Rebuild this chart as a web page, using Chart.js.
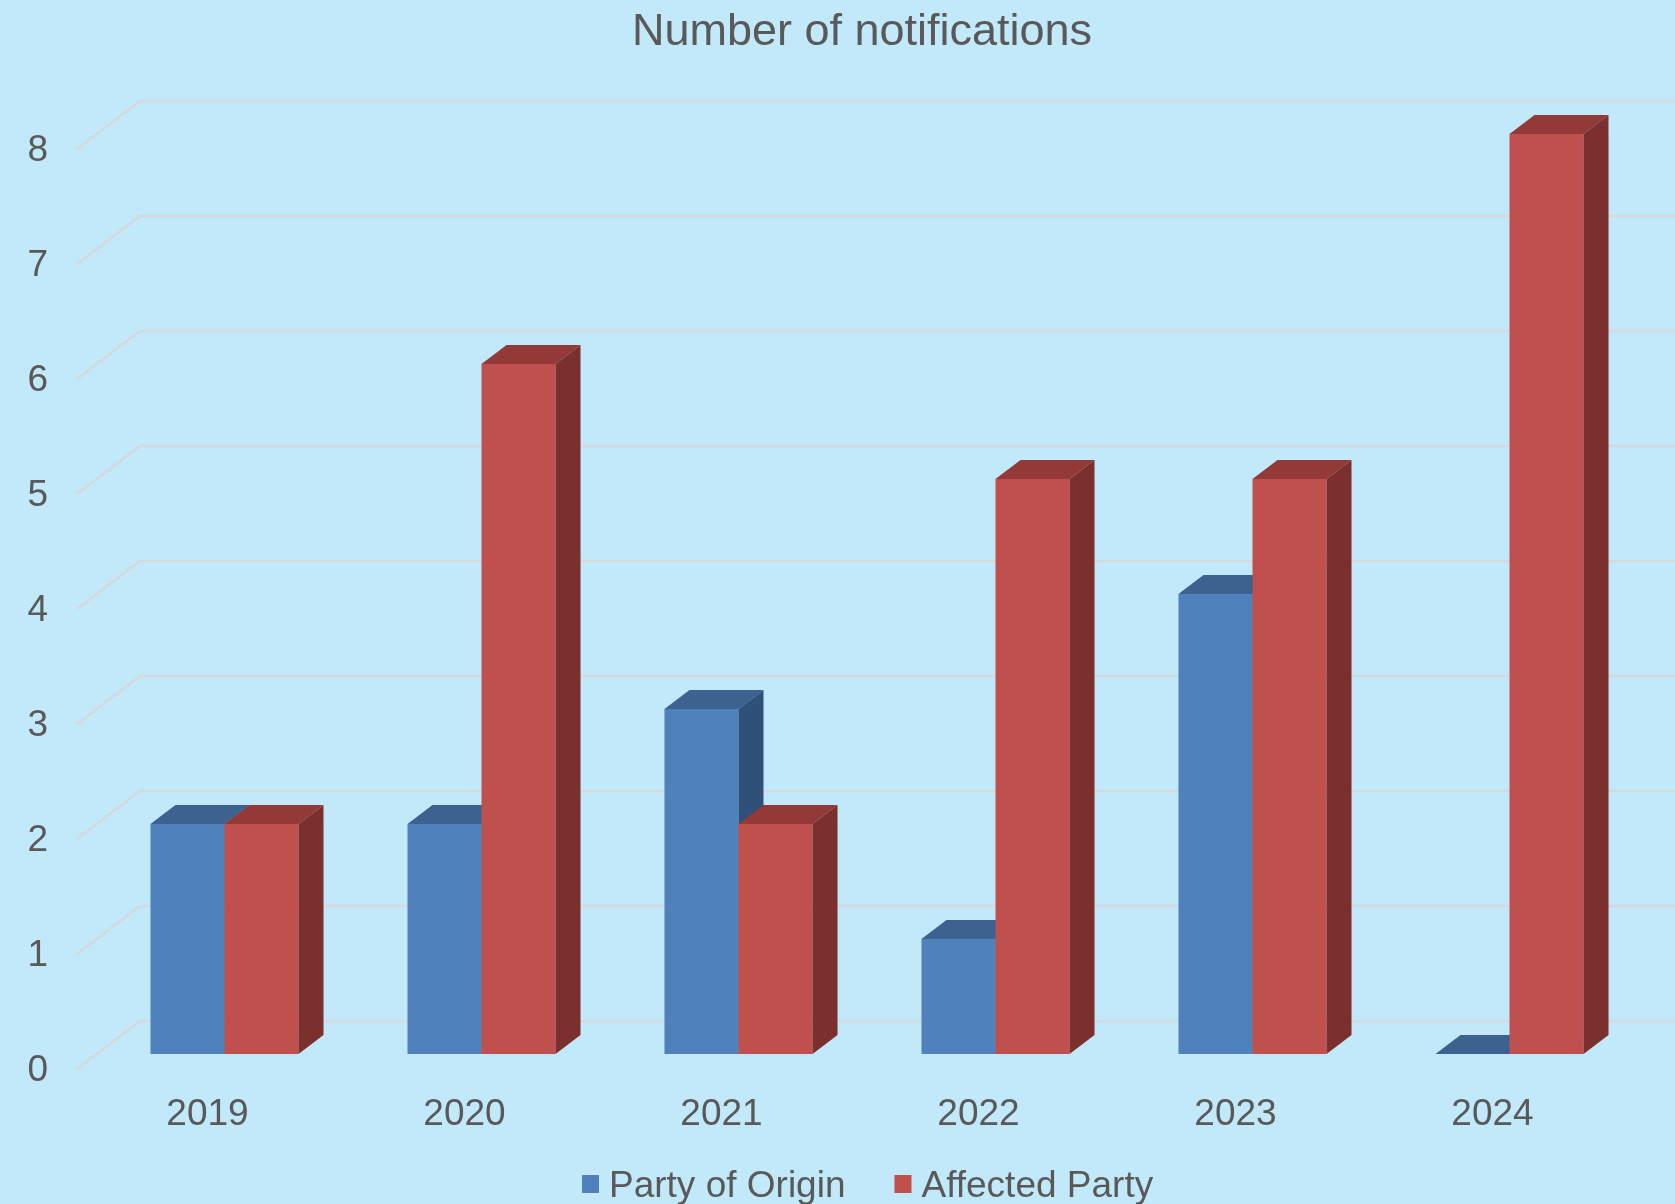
<!DOCTYPE html>
<html lang="en">
<head>
  <meta charset="UTF-8" />
  <title>Number of notifications</title>
  <script src="https://cdn.jsdelivr.net/npm/chart.js"></script>
  <style>
    html, body { margin: 0; padding: 0; background: #c2e9fa; }
    canvas { display: block; }
  </style>
</head>
<body>

<canvas id="chartCanvas" width="1675" height="1204"></canvas>

<script>
  // data
  const years = ['2019', '2020', '2021', '2022', '2023', '2024'];
  const partyOfOrigin = [2, 2, 3, 1, 4, 0];
  const affectedParty = [2, 6, 2, 5, 5, 8];
  const yTicks = [0, 1, 2, 3, 4, 5, 6, 7, 8];
  const chartTitle = 'Number of notifications';

  const BG = '#c2e9fa';
  const TEXT = '#595959';
  const GRID = '#d3d9dc';
  const FONT = '"Liberation Sans", Arial, sans-serif';

  // front / top / side shade per series
  const faces = [
    { front: '#4f81bd', top: '#3c6290', side: '#2f5079' },
    { front: '#c0504d', top: '#933a38', side: '#7b302e' }
  ];
  const DX = 25, DY = 19;

  const ctx = document.getElementById('chartCanvas').getContext('2d');

  const bars3d = {
    id: 'bars3d',
    beforeDraw(chart) {
      const c = chart.ctx;
      c.save();
      c.fillStyle = BG;
      c.fillRect(0, 0, chart.width, chart.height);
      c.restore();
    },
    beforeDatasetsDraw(chart) {
      // back wall + side wall gridlines
      const c = chart.ctx;
      const area = chart.chartArea;
      const y = chart.scales.y;
      c.save();
      c.strokeStyle = GRID;
      c.lineWidth = 2.5;
      yTicks.forEach(v => {
        const py = y.getPixelForValue(v);
        c.beginPath();
        c.moveTo(area.left - 19, py + 15);
        c.lineTo(area.left + 44, py - 33);
        c.lineTo(chart.width, py - 33);
        c.stroke();
      });
      c.restore();
    },
    beforeDatasetDraw() {
      return false; // drawn below as boxes
    },
    afterDatasetsDraw(chart) {
      const c = chart.ctx;
      c.save();
      for (let i = 0; i < chart.data.labels.length; i++) {
        chart.data.datasets.forEach((ds, d) => {
          const bar = chart.getDatasetMeta(d).data[i];
          const { x, y, base, width } = bar.getProps(['x', 'y', 'base', 'width'], true);
          const l = x - width / 2, r = x + width / 2;
          const f = faces[d];

          c.fillStyle = f.front;
          c.fillRect(l, y, width, base - y);

          c.fillStyle = f.top;
          c.beginPath();
          c.moveTo(l, y);
          c.lineTo(l + DX, y - DY);
          c.lineTo(r + DX, y - DY);
          c.lineTo(r, y);
          c.closePath();
          c.fill();

          c.fillStyle = f.side;
          c.beginPath();
          c.moveTo(r, y);
          c.lineTo(r + DX, y - DY);
          c.lineTo(r + DX, base - DY);
          c.lineTo(r, base);
          c.closePath();
          c.fill();
        });
      }
      c.restore();
    },
    afterDraw(chart) {
      const c = chart.ctx;
      c.save();
      // title (sits a little right of centre in the original)
      c.font = '45px ' + FONT;
      c.fillStyle = TEXT;
      c.textAlign = 'center';
      c.textBaseline = 'middle';
      c.fillText(chartTitle, 862, 33);

      // legend
      c.font = '37px ' + FONT;
      c.textAlign = 'left';
      c.textBaseline = 'alphabetic';
      let x = 582;
      chart.data.datasets.forEach((ds, d) => {
        c.fillStyle = faces[d].front;
        c.fillRect(x, 1175, 17, 18);
        x += 27;
        c.fillStyle = TEXT;
        c.fillText(ds.label, x, 1197);
        x += c.measureText(ds.label).width + 49;
      });
      c.restore();
    }
  };

  new Chart(ctx, {
    type: 'bar',
    data: {
      labels: years,
      datasets: [
        { label: 'Party of Origin', data: partyOfOrigin, backgroundColor: faces[0].front },
        { label: 'Affected Party', data: affectedParty, backgroundColor: faces[1].front }
      ]
    },
    options: {
      responsive: false,
      animation: false,
      layout: { padding: { left: 25, right: 37, top: 134, bottom: 68.6 } },
      datasets: {
        bar: { categoryPercentage: 0.576, barPercentage: 1, borderWidth: 0 }
      },
      scales: {
        x: {
          afterFit: s => { s.height = 81.4; },
          grid: { display: false, drawTicks: false },
          border: { display: false },
          ticks: {
            color: TEXT,
            font: { family: FONT, size: 37 },
            padding: 39,
            labelOffset: -17,
            maxRotation: 0
          }
        },
        y: {
          min: 0,
          max: 8,
          afterBuildTicks: s => { s.ticks = yTicks.map(v => ({ value: v })); },
          afterFit: s => { s.width = 71; },
          grid: { display: false, drawTicks: false },
          border: { display: false },
          ticks: {
            color: TEXT,
            font: { family: FONT, size: 37 },
            padding: 48,
            labelOffset: 17
          }
        }
      },
      plugins: {
        legend: { display: false },
        tooltip: { enabled: false },
        title: { display: false }
      }
    },
    plugins: [bars3d]
  });
</script>

</body>
</html>
